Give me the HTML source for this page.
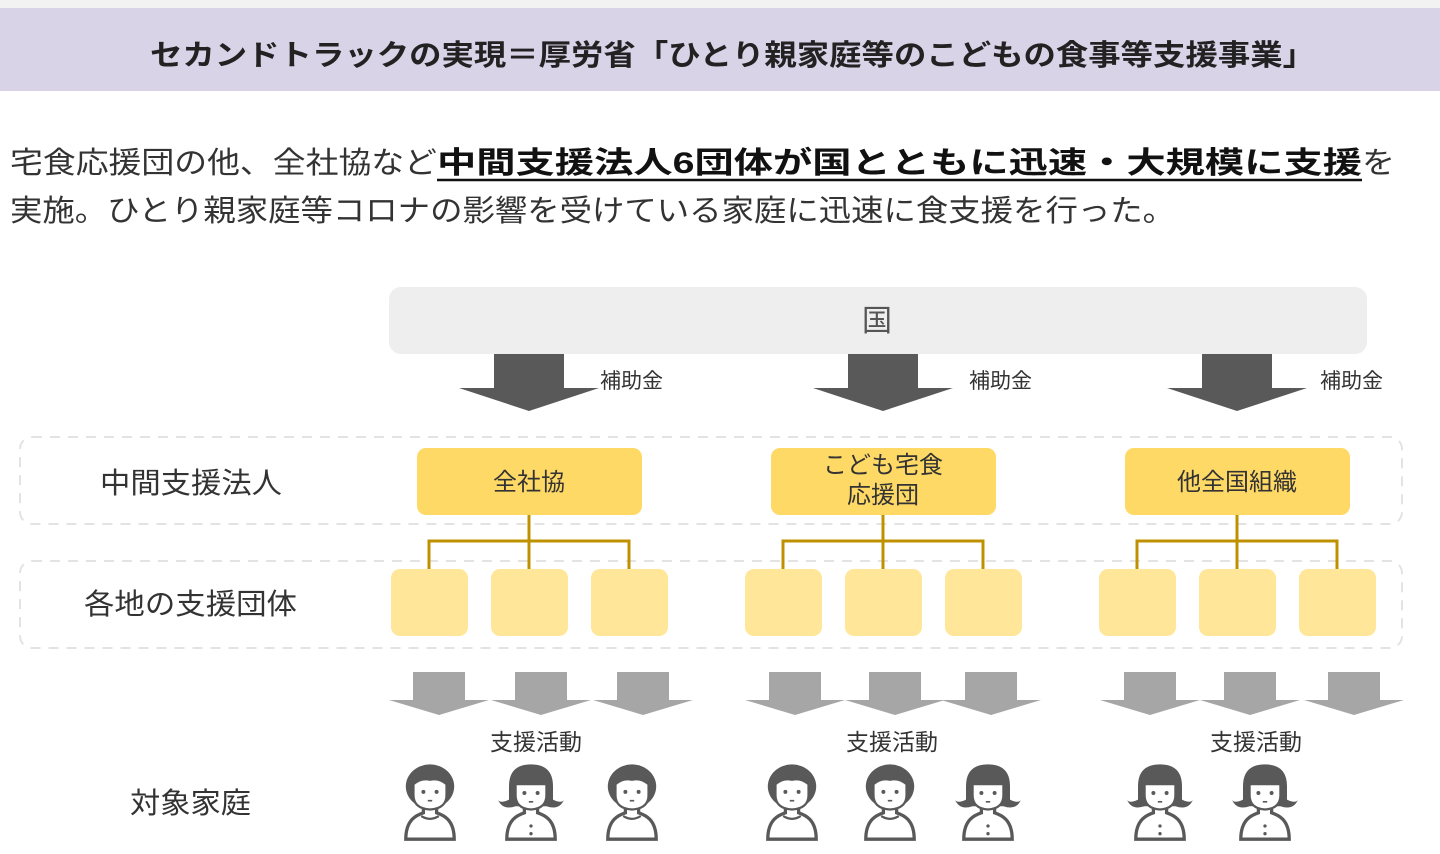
<!DOCTYPE html>
<html><head><meta charset="utf-8"><style>
html,body{margin:0;padding:0;background:#fff;}
svg{display:block;font-family:"Liberation Sans","Noto Sans CJK JP",sans-serif;}
</style></head><body>
<svg width="1440" height="854" viewBox="0 0 1440 854" xmlns="http://www.w3.org/2000/svg">
<defs>
<g id="boy" transform="scale(1.1)">
 <path d="M-22,62 C-22,44 -12,40 -6,38 L-6,30 L6,30 L6,38 C12,40 22,44 22,62 Z" fill="#fff" stroke="#595959" stroke-width="3"/>
 <path d="M-8,41 Q0,46 8,41" fill="none" stroke="#595959" stroke-width="2"/>
 <ellipse cx="0" cy="14" rx="22" ry="20" fill="#595959"/>
 <path d="M-15,12 Q-8,6 0,8 Q8,6 15,12 L15,22 Q15,34 0,35 Q-15,34 -15,22 Z" fill="#fff" stroke="#595959" stroke-width="2"/>
 <circle cx="-6" cy="19" r="1.8" fill="#595959"/><circle cx="6" cy="19" r="1.8" fill="#595959"/>
 <line x1="-2" y1="27" x2="2" y2="27" stroke="#595959" stroke-width="1.5"/>
</g>
<g id="girl" transform="scale(1.1)">
 <path d="M-22,62 C-22,44 -12,40 -6,38 L-6,30 L6,30 L6,38 C12,40 22,44 22,62 Z" fill="#fff" stroke="#595959" stroke-width="3"/>
 <circle cx="0" cy="50" r="1.5" fill="#595959"/><circle cx="0" cy="57" r="1.5" fill="#595959"/>
 <path d="M-20,14 Q-20,-6 0,-6 Q20,-6 20,14 L20,26 Q28,30 30,26 Q26,36 14,32 L-14,32 Q-26,36 -30,26 Q-28,30 -20,26 Z" fill="#595959"/>
 <path d="M-14,12 L14,12 L14,22 Q14,34 0,35 Q-14,34 -14,22 Z" fill="#fff" stroke="#595959" stroke-width="2"/>
 <circle cx="-6" cy="20" r="1.8" fill="#595959"/><circle cx="6" cy="20" r="1.8" fill="#595959"/>
 <line x1="-2" y1="28" x2="2" y2="28" stroke="#595959" stroke-width="1.5"/>
</g>
<g id="bigarrow"><polygon points="-35,0 35,0 35,34 70,34 0,57 -70,34 -35,34" fill="#595959"/></g>
<g id="garrow"><polygon points="-26,0 26,0 26,28 50,28 0,43 -50,28 -26,28" fill="#a6a6a6"/></g>
</defs>
<rect x="0" y="0" width="1440" height="8" fill="#f2f2f2"/>
<rect x="0" y="8" width="1440" height="83" fill="#d9d3e8"/>
<text x="150" y="65" font-size="29" font-weight="bold" fill="#222" textLength="1165" lengthAdjust="spacingAndGlyphs">セカンドトラックの実現＝厚労省「ひとり親家庭等のこどもの食事等支援事業」</text>

<text x="10" y="173" font-size="30" fill="#333"><tspan textLength="427" lengthAdjust="spacingAndGlyphs">宅食応援団の他、全社協など</tspan><tspan x="437" font-weight="bold" fill="#111" textLength="925" lengthAdjust="spacingAndGlyphs">中間支援法人6団体が国とともに迅速・大規模に支援</tspan><tspan x="1362" textLength="33" lengthAdjust="spacingAndGlyphs">を</tspan></text>
<line x1="437" y1="180" x2="1362" y2="180" stroke="#111" stroke-width="2.5"/>
<text x="10" y="221" font-size="30" fill="#333" textLength="1165" lengthAdjust="spacingAndGlyphs">実施。ひとり親家庭等コロナの影響を受けている家庭に迅速に食支援を行った。</text>

<rect x="389" y="287" width="978" height="67" rx="12" fill="#eeeeee"/>
<text x="877" y="331" font-size="30" fill="#555" text-anchor="middle">国</text>

<use href="#bigarrow" x="529" y="354"/><use href="#bigarrow" x="883" y="354"/><use href="#bigarrow" x="1237" y="354"/>
<g font-size="21" fill="#333"><text x="600" y="388">補助金</text><text x="969" y="388">補助金</text><text x="1320" y="388">補助金</text></g>

<rect x="20" y="437" width="1382" height="87" rx="12" fill="none" stroke="#e3e3e3" stroke-width="2" stroke-dasharray="10,8"/>
<rect x="20" y="561" width="1382" height="87" rx="12" fill="none" stroke="#e3e3e3" stroke-width="2" stroke-dasharray="10,8"/>

<g font-size="29" fill="#333">
<text x="100" y="493" textLength="182" lengthAdjust="spacingAndGlyphs">中間支援法人</text>
<text x="84" y="614" textLength="213" lengthAdjust="spacingAndGlyphs">各地の支援団体</text>
<text x="130" y="813" textLength="121" lengthAdjust="spacingAndGlyphs">対象家庭</text></g>

<g stroke="#bf9000" stroke-width="3" fill="none">
<path d="M529,515 V569 M429,569 V541 H629 V569"/>
<path d="M883,515 V569 M783,569 V541 H983 V569"/>
<path d="M1237,515 V569 M1137,569 V541 H1337 V569"/>
</g>
<g fill="#ffd966">
<rect x="417" y="448" width="225" height="67" rx="9"/><rect x="771" y="448" width="225" height="67" rx="9"/><rect x="1125" y="448" width="225" height="67" rx="9"/></g>
<g font-size="24" fill="#333" text-anchor="middle">
<text x="529" y="490">全社協</text><text x="883" y="473">こども宅食</text><text x="883" y="503">応援団</text><text x="1237" y="490">他全国組織</text></g>
<g fill="#ffe699">
<rect x="391" y="569" width="77" height="67" rx="9"/><rect x="491" y="569" width="77" height="67" rx="9"/><rect x="591" y="569" width="77" height="67" rx="9"/>
<rect x="745" y="569" width="77" height="67" rx="9"/><rect x="845" y="569" width="77" height="67" rx="9"/><rect x="945" y="569" width="77" height="67" rx="9"/>
<rect x="1099" y="569" width="77" height="67" rx="9"/><rect x="1199" y="569" width="77" height="67" rx="9"/><rect x="1299" y="569" width="77" height="67" rx="9"/></g>

<use href="#garrow" x="439" y="672"/><use href="#garrow" x="541" y="672"/><use href="#garrow" x="643" y="672"/>
<use href="#garrow" x="795" y="672"/><use href="#garrow" x="895" y="672"/><use href="#garrow" x="991" y="672"/>
<use href="#garrow" x="1150" y="672"/><use href="#garrow" x="1250" y="672"/><use href="#garrow" x="1354" y="672"/>
<g font-size="23" fill="#333" text-anchor="middle"><text x="536" y="750">支援活動</text><text x="892" y="750">支援活動</text><text x="1256" y="750">支援活動</text></g>

<use href="#boy" x="430" y="771"/><use href="#girl" x="531" y="771"/><use href="#boy" x="632" y="771"/>
<use href="#boy" x="792" y="771"/><use href="#boy" x="890" y="771"/><use href="#girl" x="988" y="771"/>
<use href="#girl" x="1160" y="771"/><use href="#girl" x="1265" y="771"/>
</svg>
</body></html>
